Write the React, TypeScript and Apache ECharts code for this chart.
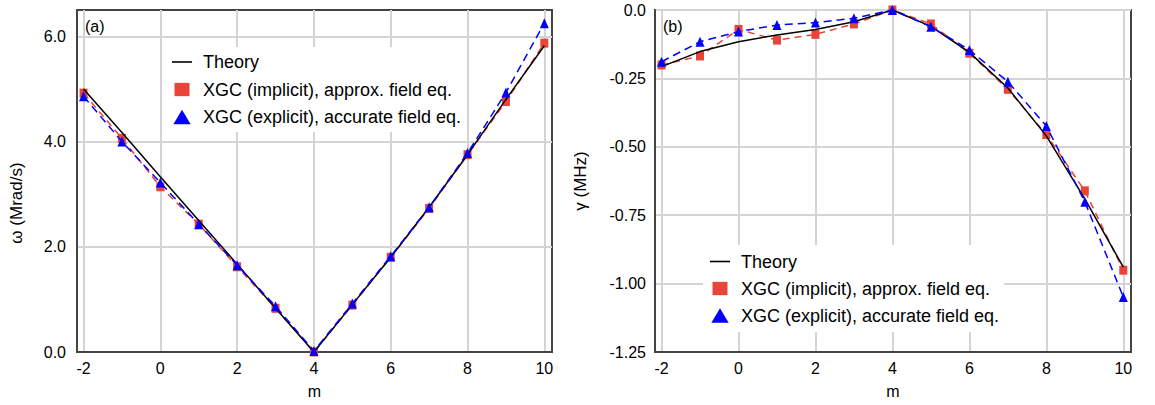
import React, { useEffect, useRef } from 'react';
import * as echarts from 'echarts';

const mValues = [-2, -1, 0, 1, 2, 3, 4, 5, 6, 7, 8, 9, 10];
const omegaTheory = [5.0, 4.17, 3.33, 2.5, 1.67, 0.83, 0, 0.9, 1.8, 2.75, 3.75, 4.8, 5.82];
const omegaImplicit = [4.92, 4.06, 3.14, 2.43, 1.62, 0.83, 0, 0.89, 1.8, 2.73, 3.75, 4.76, 5.87];
const omegaExplicit = [4.86, 4.0, 3.22, 2.43, 1.65, 0.87, 0.02, 0.92, 1.82, 2.75, 3.78, 4.93, 6.25];
const gammaTheory = [-0.207, -0.152, -0.116, -0.091, -0.071, -0.043, 0, -0.06, -0.155, -0.285, -0.46, -0.69, -0.94];
const gammaImplicit = [-0.201, -0.168, -0.071, -0.11, -0.089, -0.051, 0, -0.051, -0.158, -0.29, -0.455, -0.661, -0.951];
const gammaExplicit = [-0.189, -0.116, -0.079, -0.055, -0.046, -0.03, 0, -0.061, -0.146, -0.262, -0.424, -0.701, -1.049];
const xTicks = [-2, 0, 2, 4, 6, 8, 10];
const omegaTicks = [0, 2, 4, 6];
const seriesNames = ['Theory', 'XGC (implicit), approx. field eq.', 'XGC (explicit), accurate field eq.'];
const panelLabels = ['(a)', '(b)'];
const yNames = ['ω (Mrad/s)', 'γ (MHz)'];
const xName = 'm';

const FONT = '"Liberation Sans", Arial, Helvetica, sans-serif';
const RED = '#e9443a';
const BLUE = '#0000ff';
const GRID = '#d4d4d4';
const FRAME = '#444';

const pairs = (ys: number[]) => mValues.map((m, i) => [m, ys[i]]);

export default function App() {
  const ref = useRef<HTMLDivElement>(null);
  useEffect(() => {
    document.body.style.margin = '0';
    const chart = echarts.init(ref.current!, undefined, { renderer: 'svg' });

    const xAxisBase = (gridIndex: number) => ({
      type: 'value',
      gridIndex,
      min: -2.17,
      max: 10.2,
      name: xName,
      nameLocation: 'middle',
      nameGap: 31,
      nameTextStyle: { fontSize: 16, color: '#000', fontFamily: FONT },
      axisLine: { show: true, onZero: false, lineStyle: { color: FRAME, width: 2 } },
      axisTick: { show: false, customValues: xTicks },
      axisLabel: { customValues: xTicks, fontSize: 16, color: '#000', fontFamily: FONT, margin: 8 },
      splitLine: { show: true, lineStyle: { color: GRID, width: 2 } },
    });

    const lineSeries = (name: string, data: number[], idx: number, kind: number) => {
      const base: any = {
        name,
        type: 'line',
        xAxisIndex: idx,
        yAxisIndex: idx,
        data: pairs(data),
        clip: false,
      };
      if (kind === 0) {
        return {
          ...base,
          symbol: 'none',
          z: 4,
          itemStyle: { color: '#000', borderWidth: 0 },
          lineStyle: { color: '#000', width: 1.5 },
        };
      }
      if (kind === 1) {
        return {
          ...base,
          symbol: 'rect',
          symbolSize: [8, 9],
          z: 3,
          itemStyle: { color: RED, borderWidth: 0 },
          lineStyle: { color: RED, width: 1.5, type: [7, 5] },
        };
      }
      return {
        ...base,
        symbol: 'triangle',
        symbolSize: [9, 10],
        z: 5,
        itemStyle: { color: BLUE, borderWidth: 0 },
        lineStyle: { color: BLUE, width: 1.5, type: [8, 5] },
      };
    };

    const legendData = [
      { name: seriesNames[0], icon: 'path://M0,0M20,15M0,6.7H20V8.3H0Z' },
      { name: seriesNames[1], icon: 'path://M0,0M20,15M2.5,0.85H17.5V14.15H2.5Z' },
      { name: seriesNames[2], icon: 'path://M0,0M20,15M1.35,14.65L10,0.35L18.65,14.65Z' },
    ];
    const legendBase = (left: number, top: number, padding: number[], gap: number) => ({
      show: true,
      orient: 'vertical',
      left,
      top,
      padding,
      itemGap: gap,
      itemWidth: 20,
      itemHeight: 15,
      backgroundColor: '#fff',
      selectedMode: false,
      symbolKeepAspect: true,
      itemStyle: { borderWidth: 0 },
      textStyle: { fontSize: 18, color: '#000', fontFamily: FONT, padding: [0, 0, 0, 6] },
      data: legendData,
    });

    chart.setOption({
      animation: false,
      backgroundColor: '#fff',
      textStyle: { fontFamily: FONT },
      grid: [
        { left: 77, top: 10, width: 475, height: 342, show: true, borderColor: FRAME, borderWidth: 2, backgroundColor: 'transparent' },
        { left: 655, top: 10, width: 476, height: 342, show: true, borderColor: FRAME, borderWidth: 2, backgroundColor: 'transparent' },
      ],
      xAxis: [xAxisBase(0), xAxisBase(1)],
      yAxis: [
        {
          type: 'value',
          gridIndex: 0,
          min: 0,
          max: 6.5,
          name: yNames[0],
          nameLocation: 'middle',
          nameGap: 52,
          nameTextStyle: { fontSize: 17, color: '#000', fontFamily: FONT, padding: [0, 44, 0, 0] },
          axisLine: { show: true, onZero: false, lineStyle: { color: FRAME, width: 2 } },
          axisTick: { show: false, customValues: omegaTicks },
          axisLabel: {
            customValues: omegaTicks,
            fontSize: 16,
            color: '#000',
            fontFamily: FONT,
            margin: 11,
            formatter: (v: number) => v.toFixed(1),
          },
          splitLine: { show: true, lineStyle: { color: GRID, width: 2 } },
        },
        {
          type: 'value',
          gridIndex: 1,
          min: -1.25,
          max: 0,
          interval: 0.25,
          name: yNames[1],
          nameLocation: 'middle',
          nameGap: 66,
          nameTextStyle: { fontSize: 17, color: '#000', fontFamily: FONT },
          axisLine: { show: true, onZero: false, lineStyle: { color: FRAME, width: 2 } },
          axisTick: { show: false },
          axisLabel: {
            fontSize: 16,
            color: '#000',
            fontFamily: FONT,
            margin: 9,
            formatter: (v: number) => (v === 0 ? '0.0' : v.toFixed(2)),
          },
          splitLine: { show: true, lineStyle: { color: GRID, width: 2 } },
        },
      ],
      legend: [
        legendBase(165, 47, [6, 5, 6, 7], 9.5),
        legendBase(703, 245, [7.5, 5, 7.5, 7], 9),
      ],
      graphic: [
        { type: 'text', left: 85, top: 18, style: { text: panelLabels[0], fontSize: 16, fill: '#000', fontFamily: FONT } },
        { type: 'text', left: 663, top: 18, style: { text: panelLabels[1], fontSize: 16, fill: '#000', fontFamily: FONT } },
      ],
      series: [
        lineSeries(seriesNames[1], omegaImplicit, 0, 1),
        lineSeries(seriesNames[2], omegaExplicit, 0, 2),
        lineSeries(seriesNames[0], omegaTheory, 0, 0),
        lineSeries(seriesNames[1], gammaImplicit, 1, 1),
        lineSeries(seriesNames[2], gammaExplicit, 1, 2),
        lineSeries(seriesNames[0], gammaTheory, 1, 0),
      ],
    });
    return () => chart.dispose();
  }, []);
  return <div ref={ref} style={{ width: 1155, height: 405 }} />;
}
